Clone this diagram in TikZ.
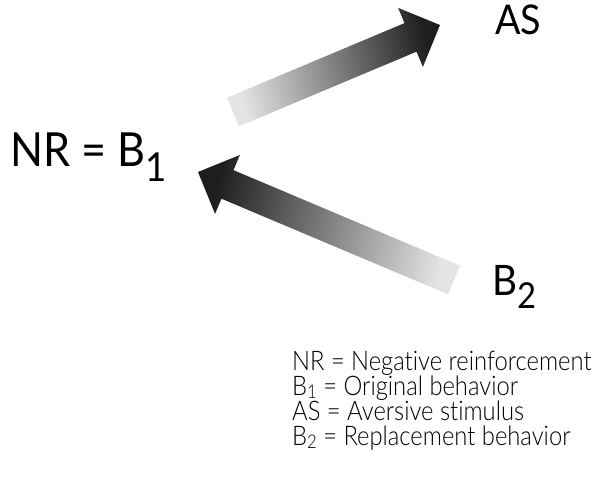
\documentclass[tikz,border=0pt]{standalone}
\usepackage{fontspec}
\setmainfont{Lato}[FakeStretch=0.92,Ligatures=NoCommon]
\newfontfamily\keyfont{Lato}[UprightFont=* Light,FakeStretch=0.88,Ligatures=NoCommon]
\usetikzlibrary{calc,positioning}
\definecolor{tailgrey}{HTML}{E4E4E4}
\definecolor{midgrey}{HTML}{4C4C4C}
\definecolor{headink}{HTML}{1E1E1E}
\newcommand\lowidx[3][0.3em]{\raisebox{-#1}{\scalebox{#2}{#3}}}
% block arrow: tail, tip, shading angle
\newcommand\blockarrow[3]{%
  \coordinate (#2-base) at ($(#2)!32pt!(#1)$);
  \shade[left color=tailgrey,middle color=midgrey,right color=headink,shading angle=#3]
    ($(#1)!15.5pt!90:(#2)$) -- ($(#2-base)!15.5pt!90:(#2)$) -- ($(#2-base)!32pt!90:(#2)$)
    -- (#2) -- ($(#2-base)!32pt!-90:(#2)$) -- ($(#2-base)!15.5pt!-90:(#2)$)
    -- ($(#1)!15.5pt!-90:(#2)$) -- cycle;}
\tikzset{
  term/.style={inner sep=0pt,anchor=base west},
  keytext/.style={inner sep=0pt,anchor=base west,font=\keyfont\fontsize{27}{27}\selectfont}}

\begin{document}
\begin{tikzpicture}[x=1pt,y=-1pt]
\useasboundingbox (0,0) rectangle (605,481);
\node[term,font=\fontsize{47}{50}\selectfont] (nr) at (10,167) {NR = B\lowidx{0.85}{1}};
\node[term,font=\fontsize{41}{44}\selectfont] (as) at (495,35) {AS};
\node[term,font=\fontsize{42}{45}\selectfont] (b2) at (492,295) {B\lowidx[0.33em]{0.85}{2}};
% arrows
\coordinate (t1) at (233,112);
\coordinate (h1) at (440,25);
\coordinate (t2) at (454,280);
\coordinate (h2) at (198,172);
\blockarrow{t1}{h1}{103.3}
\blockarrow{t2}{h2}{257.1}
% key
\node[keytext] (k1) at (292,370) {NR = Negative reinforcement};
\node[keytext,below=25pt of k1.base west,anchor=base west] (k2) {B\lowidx[0.12em]{0.7}{1} = Original behavior};
\node[keytext,below=25pt of k2.base west,anchor=base west] (k3) {AS = Aversive stimulus};
\node[keytext,below=25pt of k3.base west,anchor=base west] (k4) {B\lowidx[0.12em]{0.7}{2} = Replacement behavior};
\end{tikzpicture}
\end{document}
